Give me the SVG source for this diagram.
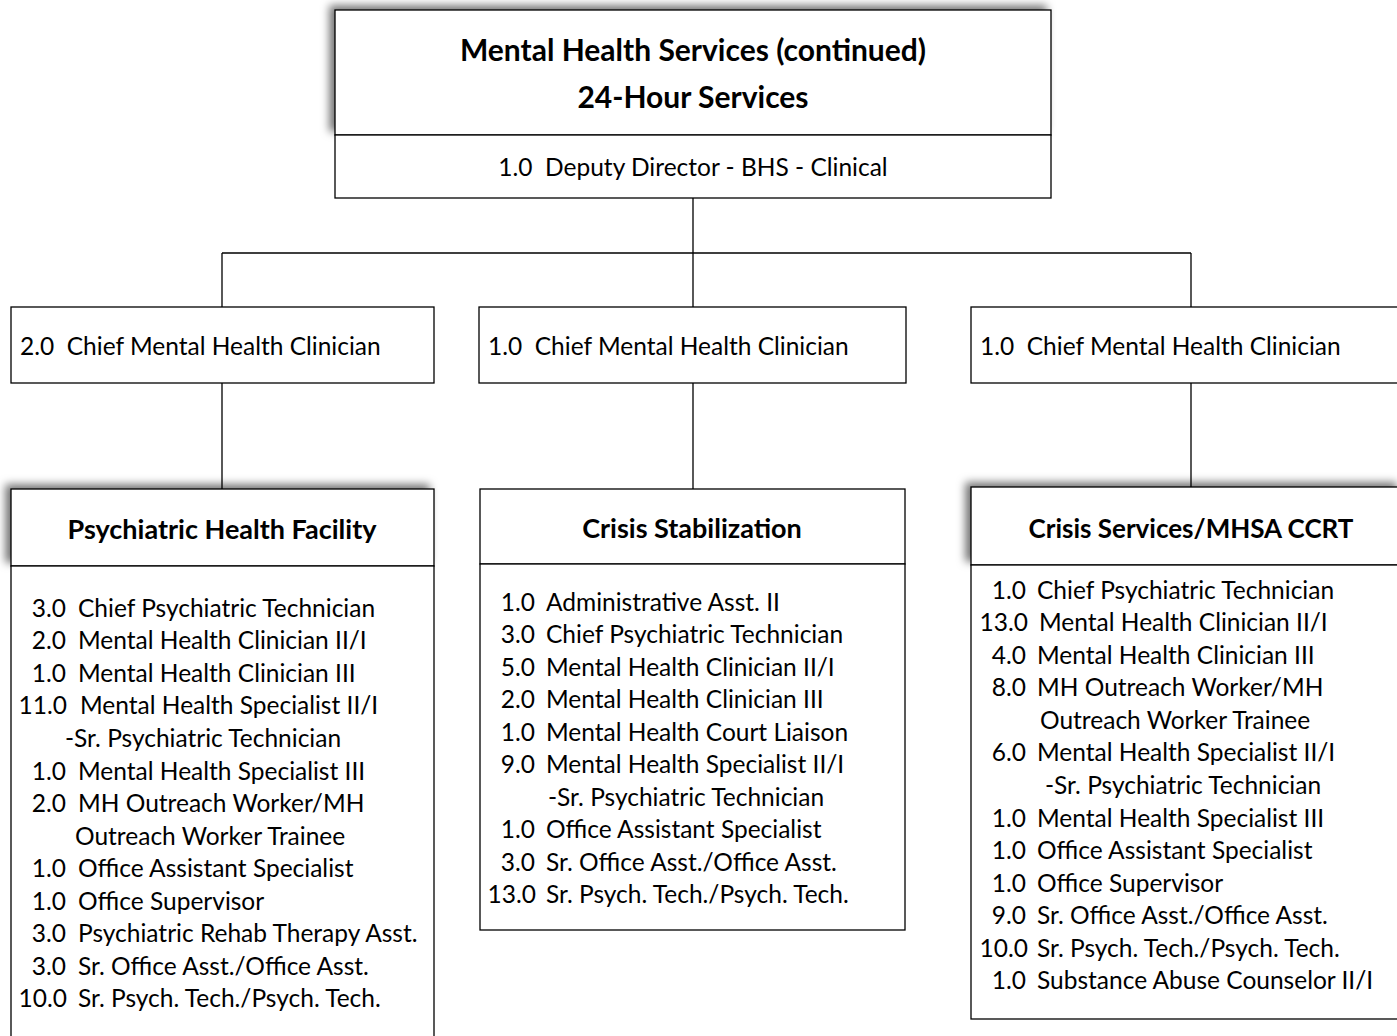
<svg xmlns="http://www.w3.org/2000/svg" width="1397" height="1036" viewBox="0 0 1397 1036">
<defs>
<filter id="sh" x="-10%" y="-30%" width="120%" height="160%">
<feDropShadow dx="-5" dy="-4" stdDeviation="4.5" flood-color="#000" flood-opacity="0.55"/>
</filter>
</defs>
<style>
.box{fill:#fff;stroke:#000;stroke-width:1.3}
.ln{fill:none;stroke:#000;stroke-width:1.3}
text{font-family:Lato,"Liberation Sans",sans-serif;fill:#000}
.t{font-size:30px;font-weight:bold;text-anchor:middle}
.h{font-size:27px;font-weight:bold;text-anchor:middle}
.n{font-size:24.5px;text-anchor:end}
.l{font-size:24.5px}
</style>
<rect width="1397" height="1036" fill="#fff"/>
<g id="connectors">
<path class="ln" d="M693 198V253M222 253H1191M222 253V307M693 253V307M1191 253V307M222 383V489M693 383V489M1191 383V487"/>
</g>
<g id="top">
<rect class="box" x="335" y="10" width="716" height="125" filter="url(#sh)"/>
<rect class="box" x="335" y="135" width="716" height="63"/>
<text class="t" x="693" y="61">Mental Health Services (continued)</text>
<text class="t" x="693" y="108">24-Hour Services</text>
<text class="l" x="693" y="176" text-anchor="middle" xml:space="preserve">1.0  Deputy Director - BHS - Clinical</text>
</g>
<g id="chief1">
<rect class="box" x="11" y="307" width="423" height="76"/>
<text class="l" x="20" y="355" xml:space="preserve">2.0  Chief Mental Health Clinician</text>
</g>
<g id="chief2">
<rect class="box" x="479" y="307" width="427" height="76"/>
<text class="l" x="488" y="355" xml:space="preserve">1.0  Chief Mental Health Clinician</text>
</g>
<g id="chief3">
<rect class="box" x="971" y="307" width="430" height="76"/>
<text class="l" x="980" y="355" xml:space="preserve">1.0  Chief Mental Health Clinician</text>
</g>
<g id="phf">
<rect class="box" x="11" y="489" width="423" height="77" filter="url(#sh)"/>
<rect class="box" x="11" y="566" width="423" height="480"/>
<text class="h" x="222" y="539">Psychiatric Health Facility</text>
<text class="n" x="66" y="617">3.0</text>
<text class="n" x="66" y="649">2.0</text>
<text class="n" x="66" y="682">1.0</text>
<text class="n" x="67" y="714">11.0</text>
<text class="n" x="66" y="780">1.0</text>
<text class="n" x="66" y="812">2.0</text>
<text class="n" x="66" y="877">1.0</text>
<text class="n" x="66" y="910">1.0</text>
<text class="n" x="66" y="942">3.0</text>
<text class="n" x="66" y="975">3.0</text>
<text class="n" x="67" y="1007">10.0</text>
<text class="l" x="78" y="617">Chief Psychiatric Technician</text>
<text class="l" x="78" y="649">Mental Health Clinician II/I</text>
<text class="l" x="78" y="682">Mental Health Clinician III</text>
<text class="l" x="80" y="714">Mental Health Specialist II/I</text>
<text class="l" x="65" y="747">-Sr. Psychiatric Technician</text>
<text class="l" x="78" y="780">Mental Health Specialist III</text>
<text class="l" x="78" y="812">MH Outreach Worker/MH</text>
<text class="l" x="75" y="845">Outreach Worker Trainee</text>
<text class="l" x="78" y="877">Office Assistant Specialist</text>
<text class="l" x="78" y="910">Office Supervisor</text>
<text class="l" x="78" y="942">Psychiatric Rehab Therapy Asst.</text>
<text class="l" x="78" y="975">Sr. Office Asst./Office Asst.</text>
<text class="l" x="78" y="1007">Sr. Psych. Tech./Psych. Tech.</text>
</g>
<g id="cs">
<rect class="box" x="480" y="489" width="425" height="75"/>
<rect class="box" x="480" y="564" width="425" height="366"/>
<text class="h" x="692" y="538">Crisis Stabilization</text>
<text class="n" x="535" y="611">1.0</text>
<text class="n" x="535" y="643">3.0</text>
<text class="n" x="535" y="676">5.0</text>
<text class="n" x="535" y="708">2.0</text>
<text class="n" x="535" y="741">1.0</text>
<text class="n" x="535" y="773">9.0</text>
<text class="n" x="535" y="838">1.0</text>
<text class="n" x="535" y="871">3.0</text>
<text class="n" x="536" y="903">13.0</text>
<text class="l" x="546" y="611">Administrative Asst. II</text>
<text class="l" x="546" y="643">Chief Psychiatric Technician</text>
<text class="l" x="546" y="676">Mental Health Clinician II/I</text>
<text class="l" x="546" y="708">Mental Health Clinician III</text>
<text class="l" x="546" y="741">Mental Health Court Liaison</text>
<text class="l" x="546" y="773">Mental Health Specialist II/I</text>
<text class="l" x="548" y="806">-Sr. Psychiatric Technician</text>
<text class="l" x="546" y="838">Office Assistant Specialist</text>
<text class="l" x="546" y="871">Sr. Office Asst./Office Asst.</text>
<text class="l" x="546" y="903">Sr. Psych. Tech./Psych. Tech.</text>
</g>
<g id="ccrt">
<rect class="box" x="971" y="487" width="430" height="78" filter="url(#sh)"/>
<rect class="box" x="971" y="565" width="430" height="454"/>
<text class="h" x="1191" y="538" style="font-size:26px">Crisis Services/MHSA CCRT</text>
<text class="n" x="1026" y="599">1.0</text>
<text class="n" x="1028" y="631">13.0</text>
<text class="n" x="1026" y="664">4.0</text>
<text class="n" x="1026" y="696">8.0</text>
<text class="n" x="1026" y="761">6.0</text>
<text class="n" x="1026" y="827">1.0</text>
<text class="n" x="1026" y="859">1.0</text>
<text class="n" x="1026" y="892">1.0</text>
<text class="n" x="1026" y="924">9.0</text>
<text class="n" x="1028" y="957">10.0</text>
<text class="n" x="1026" y="989">1.0</text>
<text class="l" x="1037" y="599">Chief Psychiatric Technician</text>
<text class="l" x="1039" y="631">Mental Health Clinician II/I</text>
<text class="l" x="1037" y="664">Mental Health Clinician III</text>
<text class="l" x="1037" y="696">MH Outreach Worker/MH</text>
<text class="l" x="1040" y="729">Outreach Worker Trainee</text>
<text class="l" x="1037" y="761">Mental Health Specialist II/I</text>
<text class="l" x="1045" y="794">-Sr. Psychiatric Technician</text>
<text class="l" x="1037" y="827">Mental Health Specialist III</text>
<text class="l" x="1037" y="859">Office Assistant Specialist</text>
<text class="l" x="1037" y="892">Office Supervisor</text>
<text class="l" x="1037" y="924">Sr. Office Asst./Office Asst.</text>
<text class="l" x="1037" y="957">Sr. Psych. Tech./Psych. Tech.</text>
<text class="l" x="1037" y="989">Substance Abuse Counselor II/I</text>
</g>
</svg>
